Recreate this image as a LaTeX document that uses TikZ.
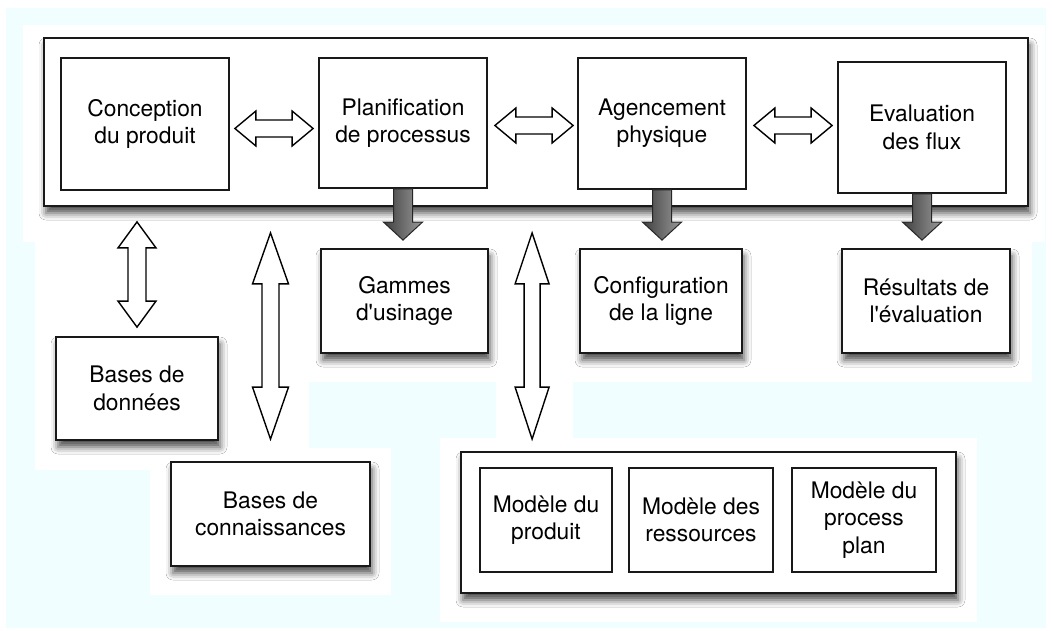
\documentclass[tikz,border=0pt]{standalone}
\usepackage{fontspec}
\setmainfont{TeX Gyre Heros}
\usetikzlibrary{calc,shadows.blur}
\definecolor{bgc}{RGB}{240,254,255}
\begin{document}
\begin{tikzpicture}[x=1pt,y=-1pt,
  shad/.style={blur shadow={shadow xshift=2pt,shadow yshift=-7pt,shadow blur radius=7pt,shadow opacity=70}},
  box/.style={draw=black!90,line width=1.8pt,fill=white,align=center,inner sep=0pt,font=\fontsize{22.8}{27.3}\selectfont},
  frame/.style={draw=black!90,line width=1.8pt,fill=white,inner sep=0pt},
  wa/.style={draw=black,line width=1.4pt,fill=white,line join=miter},
  da/.style={draw=black!85,line width=1pt,left color=black!75,right color=black!40}]
\useasboundingbox (0,0) rectangle (1052,631);
% background
\fill[white] (0,0) rectangle (1052,631);
\fill[bgc] (6,8) rectangle (1046,628);
\fill[white] (23,25) rectangle (1045,242);
\fill[white] (35,242) rectangle (1032,382);
\fill[white] (35,382) rectangle (309,448);
\fill[white] (35,448) rectangle (150,470);
\fill[white] (150,448) rectangle (391,595);
\fill[white] (496,382) rectangle (573,438);
\fill[white] (440,438) rectangle (977,622);
% top frame
\node[frame,shad,minimum width=984pt,minimum height=168pt] (top) at (536,122) {};
\node[box,minimum width=168pt,minimum height=132pt] (cp) at (145,124) {Conception\\du produit};
\node[box,minimum width=168pt,minimum height=130pt] (pl) at (403,123) {Planification\\de processus};
\node[box,minimum width=168pt,minimum height=131pt] (ag) at (662,123.5) {Agencement\\physique};
\node[box,minimum width=168pt,minimum height=131pt] (ev) at (922,127.5) {Evaluation\\des flux};
% result boxes
\node[box,shad,minimum width=167pt,minimum height=104pt] (gm) at (404.5,301) {Gammes\\d\textquotesingle usinage};
\node[box,shad,minimum width=162pt,minimum height=104pt] (cf) at (661,301) {Configuration\\de la ligne};
\node[box,shad,minimum width=168pt,minimum height=104pt] (rs) at (926,301) {Résultats de\\l\textquotesingle évaluation};
\node[box,shad,minimum width=162pt,minimum height=103pt] (bd) at (137,388.5) {Bases de\\données};
\node[box,shad,minimum width=199pt,minimum height=104pt] (bc) at (270.5,514) {Bases de\\connaissances};
\node[frame,shad,minimum width=495pt,minimum height=141pt] (md) at (708.5,522.5) {};
\node[box,minimum width=132pt,minimum height=104pt] (m1) at (546,520) {Modèle du\\produit};
\node[box,minimum width=144pt,minimum height=104pt] (m2) at (701,520) {Modèle des\\ressources};
\node[box,minimum width=144pt,minimum height=104pt] (m3) at (864,520) {Modèle du\\process\\plan};
\coordinate (cx) at ($(md.north west)+(72pt,0)$);
% horizontal double arrows
\draw[wa] let \p1=($(cp.east)+(5pt,-4.5pt)$), \p2=($(pl.west |- \p1)+(-5pt,0)$) in
  (\p1) -- ++(21pt,17.5pt) -- ++(0,-9pt) -- (\x2-21pt,\y1+8.5pt) -- ++(0,9pt) -- (\p2)
  -- ++(-21pt,-17.5pt) -- ++(0,9pt) -- (\x1+21pt,\y1-8.5pt) -- ++(0,-9pt) -- cycle;
\draw[wa] let \p1=($(pl.east)+(7pt,-2.5pt)$), \p2=($(ag.west |- \p1)+(-4pt,0)$) in
  (\p1) -- ++(21pt,17.5pt) -- ++(0,-9pt) -- (\x2-21pt,\y1+8.5pt) -- ++(0,9pt) -- (\p2)
  -- ++(-21pt,-17.5pt) -- ++(0,9pt) -- (\x1+21pt,\y1-8.5pt) -- ++(0,-9pt) -- cycle;
\draw[wa] let \p1=($(ag.east |- 0,125.5)+(7pt,0)$), \p2=($(ev.west |- \p1)+(-5pt,0)$) in
  (\p1) -- ++(21pt,17.5pt) -- ++(0,-9pt) -- (\x2-21pt,\y1+8.5pt) -- ++(0,9pt) -- (\p2)
  -- ++(-21pt,-17.5pt) -- ++(0,9pt) -- (\x1+21pt,\y1-8.5pt) -- ++(0,-9pt) -- cycle;
% vertical double arrows
\draw[wa] let \p1=($(top.south -| bd.north)+(0,-15pt)$), \p2=($(bd.north)+(0,9pt)$) in
  (\p1) -- ++(19pt,-26pt) -- ++(-10pt,0) -- (\x2+9pt,\y2+26pt) -- ++(10pt,0) -- (\p2)
  -- ++(-19pt,26pt) -- ++(10pt,0) -- (\x1-9pt,\y1-26pt) -- ++(-10pt,0) -- cycle;
\draw[wa] let \p1=($(top.south -| bc.north)+(0,-26pt)$), \p2=($(bc.north)+(0,22pt)$) in
  (\p1) -- ++(18pt,-51pt) -- ++(-9.5pt,0) -- (\x2+8.5pt,\y2+52pt) -- ++(9.5pt,0) -- (\p2)
  -- ++(-18pt,52pt) -- ++(9.5pt,0) -- (\x1-8.5pt,\y1-51pt) -- ++(-9.5pt,0) -- cycle;
\draw[wa] let \p1=($(top.south -| cx)+(0,-26pt)$), \p2=($(cx)+(0,12pt)$) in
  (\p1) -- ++(17pt,-51pt) -- ++(-9pt,0) -- (\x2+8pt,\y2+52pt) -- ++(9pt,0) -- (\p2)
  -- ++(-17pt,52pt) -- ++(9pt,0) -- (\x1-8pt,\y1-51pt) -- ++(-9pt,0) -- cycle;
% dark down arrows
\foreach \a/\b in {pl/gm,ag/cf,ev/rs}{
  \draw[da] let \p1=(\a.south), \p2=($(\a.south |- \b.north)+(0,8pt)$) in
    (\x1-9.5pt,\y1) -- (\x1+9.5pt,\y1) -- (\x1+9.5pt,\y2+18pt) -- (\x1+19.5pt,\y2+18pt)
    -- (\p2) -- (\x1-19.5pt,\y2+18pt) -- (\x1-9.5pt,\y2+18pt) -- cycle;
}
\end{tikzpicture}
\end{document}
